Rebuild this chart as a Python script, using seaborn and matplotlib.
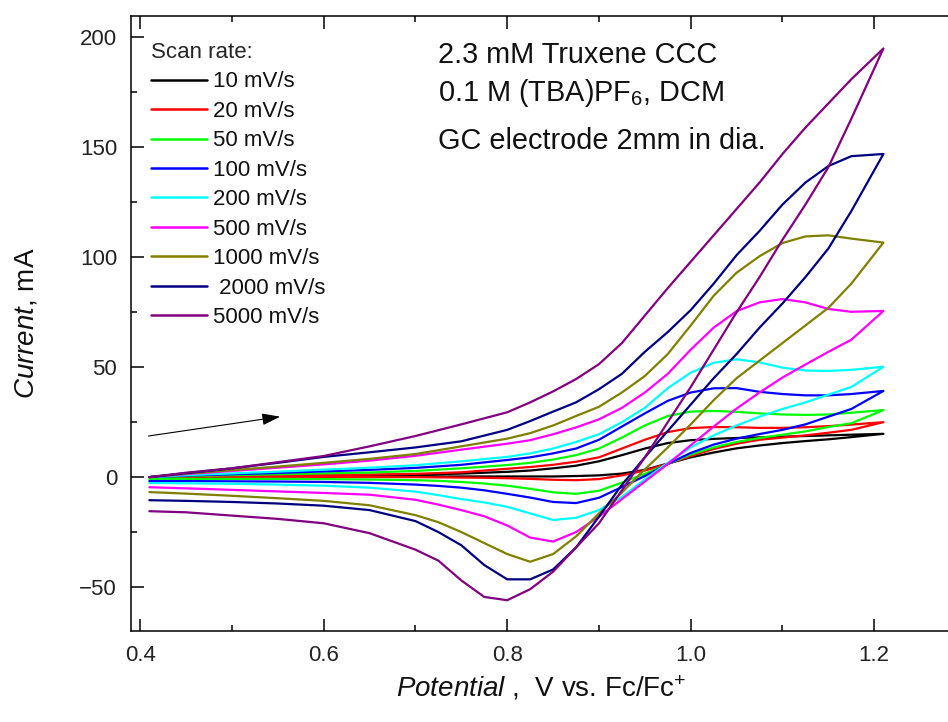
import numpy as np
import pandas as pd
import matplotlib
matplotlib.use("Agg")
import matplotlib.pyplot as plt
from matplotlib.ticker import MultipleLocator
import seaborn as sns

# Potential grids (V vs. Fc/Fc+) for the anodic (forward) and cathodic (reverse) sweeps
E_FWD = [0.41, 0.45, 0.50, 0.55, 0.60, 0.65, 0.70, 0.75, 0.80, 0.825, 0.85, 0.875,
         0.90, 0.925, 0.95, 0.975, 1.00, 1.025, 1.05, 1.075, 1.10, 1.125, 1.15, 1.175, 1.21]
E_REV = [1.21, 1.175, 1.15, 1.125, 1.10, 1.075, 1.05, 1.025, 1.00, 0.975, 0.95, 0.925,
         0.90, 0.875, 0.85, 0.825, 0.80, 0.775, 0.75, 0.725, 0.70, 0.65, 0.60, 0.55,
         0.50, 0.45, 0.41]

# Currents for each scan rate
I_FWD_10 = [0, 0.2, 0.4, 0.6, 0.8, 1.0, 1.2, 1.6, 2.4, 3.0, 4.0, 5.2, 7.2, 10, 13, 15.5,
            16.8, 17.4, 17.8, 18.1, 18.4, 18.7, 19.0, 19.3, 19.7]
I_REV_10 = [19.7, 18.2, 17.2, 16.4, 15.5, 14.4, 13.1, 11.2, 9.0, 6.2, 3.3, 1.6, 0.8, 0.5,
            0.3, 0.3, 0.3, 0.3, 0.3, 0.3, 0.3, 0.2, 0.2, 0.1, 0.1, 0, 0]

I_FWD_20 = [0, 0.3, 0.5, 0.7, 0.9, 1.1, 1.5, 2.2, 3.8, 4.6, 5.6, 7, 9, 13, 17, 20.5,
            22.3, 22.8, 22.7, 22.4, 22.4, 22.7, 23.2, 23.9, 25]
I_REV_20 = [25, 21.5, 20.2, 19, 18, 17, 15.2, 12.8, 9.6, 6, 3, 0.8, -0.9, -1.4, -1.2,
            -0.8, -0.5, -0.3, -0.2, -0.1, 0, 0, 0, 0, 0, 0, 0]

I_FWD_50 = [0, 0.5, 0.9, 1.3, 1.7, 2.1, 2.8, 4, 5.5, 6.5, 8, 10, 13, 18, 23.5, 27.8,
            29.8, 30.1, 29.7, 29, 28.5, 28.3, 28.5, 29.3, 30.5]
I_REV_50 = [30.5, 24.5, 22.8, 20.8, 19.3, 17.8, 16, 13.5, 10.3, 6, 1.5, -2.5, -6.2, -7.6,
            -6.9, -5.3, -3.9, -2.9, -2.2, -1.7, -1.4, -1.1, -0.9, -0.8, -0.8, -0.8, -0.9]

I_FWD_100 = [0, 0.7, 1.3, 1.9, 2.6, 3.3, 4.2, 5.6, 7.8, 9, 10.8, 13, 17, 23, 29, 34.7,
             38.5, 40.4, 40.5, 38.8, 37.8, 37.2, 37.2, 37.8, 39.2]
I_REV_100 = [39.2, 31, 27.5, 24, 21.5, 19.6, 17.5, 14.8, 11, 6, 0.5, -4.5, -9.4, -11.8,
             -11.3, -9.3, -7.6, -6, -4.8, -4, -3.4, -2.6, -2.2, -2, -1.9, -1.8, -1.8]

I_FWD_200 = [0, 0.9, 1.7, 2.5, 3.4, 4.3, 5.4, 7.2, 9.2, 10.8, 13, 16, 19.5, 25, 31.5,
             40.5, 47.5, 52, 53.6, 52.2, 49.8, 48.5, 48.3, 48.8, 50.2]
I_REV_200 = [50.2, 41, 37.5, 34, 31, 27.5, 23.5, 19, 13.5, 6.5, -1, -9, -15, -18.5,
             -19.5, -16.5, -13.5, -11.5, -10, -8.2, -6.6, -4.8, -3.9, -3.4, -3, -2.8, -2.7]

I_FWD_500 = [0, 1.4, 2.8, 4.3, 5.8, 7.5, 9.7, 12.5, 15.2, 16.8, 19.5, 22.6, 26.3, 31.5,
             38.5, 47, 58, 68, 75.5, 79.5, 81, 79.5, 76.5, 75.2, 75.6]
I_REV_500 = [75.6, 62.5, 57, 51.2, 45.3, 38.5, 31.2, 23, 14.5, 6, -2, -10, -18, -25,
             -29.3, -27.5, -22, -17.8, -15, -12.5, -10.3, -8, -7.2, -6.5, -5.8, -5.1, -4.6]

I_FWD_1000 = [0, 1.6, 3.2, 4.8, 6.5, 8.3, 10.5, 14, 17.5, 20, 23.5, 27.8, 32, 38.5, 46,
              56, 69, 82.5, 93, 100.5, 106.5, 109.5, 110, 108.5, 106.7]
I_REV_1000 = [106.7, 88, 77, 69, 61, 53, 45, 35, 24, 13.5, 3.5, -7, -16.5, -27, -35,
              -38.5, -35, -30, -25, -20.5, -17.3, -12.8, -10.8, -9.6, -8.5, -7.5, -6.8]

I_FWD_2000 = [0, 1.8, 4, 6.5, 9.2, 11.3, 13.5, 16.3, 21.5, 25.5, 29.8, 34, 40, 47, 57,
              66, 76, 88, 101, 112, 124, 134, 141.5, 146, 147]
I_REV_2000 = [147, 121, 104, 91, 79, 68, 56, 45, 33, 21, 9, -3.5, -18, -32, -42, -46.5,
              -46.5, -40, -31, -25, -20, -15, -13, -12, -11.3, -10.8, -10.5]

I_FWD_5000 = [0, 2, 4, 6.8, 9.6, 14, 18.7, 24, 29.5, 34, 39, 44.6, 51.4, 61, 73.5, 86,
              98, 110, 122, 134, 147, 159, 170, 181, 195]
I_REV_5000 = [195, 163, 141, 124, 108, 91, 75, 58, 41, 25, 9, -6, -21, -32, -43, -51,
              -56, -54.5, -47, -38, -33, -25.5, -21, -19, -17.5, -16, -15.5]

RATE_LABELS = ["10 mV/s", "20 mV/s", "50 mV/s", "100 mV/s", "200 mV/s",
               "500 mV/s", "1000 mV/s", " 2000 mV/s", "5000 mV/s"]
RATE_COLORS = ["#000000", "#FF0000", "#00FF00", "#0000FF", "#00FFFF",
               "#FF00FF", "#808000", "#000080", "#800080"]
FORWARD = [I_FWD_10, I_FWD_20, I_FWD_50, I_FWD_100, I_FWD_200,
           I_FWD_500, I_FWD_1000, I_FWD_2000, I_FWD_5000]
REVERSE = [I_REV_10, I_REV_20, I_REV_50, I_REV_100, I_REV_200,
           I_REV_500, I_REV_1000, I_REV_2000, I_REV_5000]

# Long-form table: each voltammogram is forward sweep followed by the return sweep
frames = []
for label, fwd, rev in zip(RATE_LABELS, FORWARD, REVERSE):
    frames.append(pd.DataFrame({
        "E": list(E_FWD) + list(E_REV)[1:],
        "I": list(fwd) + list(rev)[1:],
        "rate": label,
    }))
cv = pd.concat(frames, ignore_index=True)

sns.set_theme(style="ticks")
plt.rcParams["font.family"] = ["Liberation Sans", "DejaVu Sans"]
plt.rcParams["mathtext.fontset"] = "custom"
plt.rcParams["mathtext.rm"] = "Liberation Sans"
plt.rcParams["mathtext.it"] = "Liberation Sans:italic"
plt.rcParams["mathtext.bf"] = "Liberation Sans:bold"

fig = plt.figure(figsize=(9.48, 7.22), dpi=100)
W, H = 948.0, 722.0
ax = fig.add_axes([131 / W, 1 - 631 / H, 835 / W, 615.5 / H])

sns.lineplot(data=cv, x="E", y="I", hue="rate", hue_order=RATE_LABELS,
             palette=dict(zip(RATE_LABELS, RATE_COLORS)), sort=False,
             estimator=None, linewidth=1.6, ax=ax, legend="full")

ax.set_xlim(0.39, 1.30)
ax.set_ylim(-70, 210)
ax.xaxis.set_major_locator(MultipleLocator(0.2))
ax.xaxis.set_minor_locator(MultipleLocator(0.1))
ax.yaxis.set_major_locator(MultipleLocator(50))
ax.yaxis.set_minor_locator(MultipleLocator(25))
ax.set_xticks([0.4, 0.6, 0.8, 1.0, 1.2])
ax.set_xticklabels(["0.4", "0.6", "0.8", "1.0", "1.2"])
ax.tick_params(which="both", direction="in", top=True, right=True,
               color="black", width=1.1)
ax.tick_params(which="major", length=9, labelsize=16, pad=10, labelcolor="#222222")
ax.tick_params(which="minor", length=4.5)
for s in ax.spines.values():
    s.set_color("black")
    s.set_linewidth(1.1)

ax.set_xlabel("")
ax.set_ylabel("")
fig.text(27 / W, 1 - 323 / H, r"$\mathit{Current}$, mA", rotation=90,
         ha="center", va="center", fontsize=20, color="#111111")
fig.text(541 / W, 1 - 697 / H, r"$\mathit{Potential}$ ,  V vs. Fc/Fc$^{+}$",
         ha="center", va="baseline", fontsize=20, color="#111111")

# Experimental conditions
cond_kw = dict(fontsize=20.8, va="baseline", ha="left", color="#111111")
fig.text(438 / W, 1 - 63 / H, "2.3 mM Truxene CCC", **cond_kw)
fig.text(438 / W, 1 - 101 / H, r"0.1 M (TBA)PF$_{6}$, DCM", **cond_kw)
fig.text(438 / W, 1 - 149 / H, "GC electrode 2mm in dia.", **cond_kw)

# Sweep direction arrow
ax.annotate("", xy=(0.5525, 27.5), xytext=(0.409, 18.7),
            arrowprops=dict(arrowstyle="-|>,head_length=0.55,head_width=0.18",
                            color="black", lw=0.8, mutation_scale=20,
                            shrinkA=0, shrinkB=0))

handles, labels = ax.get_legend_handles_labels()
leg = ax.legend(handles, labels, title="Scan rate:", loc="upper left",
                bbox_to_anchor=(151 / W, 1 - 42 / H), bbox_transform=fig.transFigure,
                frameon=False, fontsize=16, title_fontsize=16,
                handlelength=2.5, handletextpad=0.3, labelspacing=0.38,
                borderpad=0, borderaxespad=0, alignment="left")
for line in leg.get_lines():
    line.set_linewidth(1.8)
for t in leg.get_texts():
    t.set_color("#111111")

fig.savefig("out.png", dpi=100)
